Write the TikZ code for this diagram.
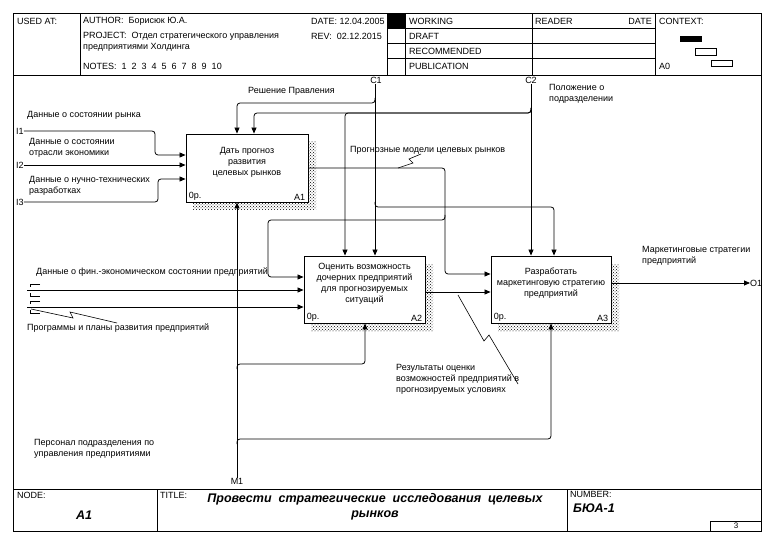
\documentclass[tikz,border=0pt]{standalone}
\usepackage{fontspec}
\setmainfont{Liberation Sans}
\usetikzlibrary{arrows.meta,patterns}
\newcommand{\fsn}{\fontsize{9}{11}\selectfont}
\newcommand{\fbig}{\fontsize{12.5}{15.5}\selectfont\bfseries\itshape}
\begin{document}
\begin{tikzpicture}[x=1pt,y=-1pt,
  lbl/.style={inner sep=0pt, anchor=west, align=left, font=\fsn},
  arr/.style={draw, line width=0.8pt, -{Triangle[length=6pt,width=5pt]}, rounded corners=3pt},
  ln/.style={line width=0.8pt},
  frame/.style={line width=1pt},
  box/.style={draw, line width=0.9pt, fill=white, inner sep=0pt},
  btxt/.style={inner sep=0pt, align=center, font=\fsn},
  shadowfill/.style={pattern=crosshatch dots, pattern color=black}]
\useasboundingbox (0,0) rectangle (780,559);
\fill[white] (0,0) rectangle (780,559);

% ---------- frame and header ----------
\draw[frame] (13,14) rectangle (761,531);
\draw[frame] (13,76) -- (761,76);
\draw[frame] (80,14) -- (80,76);
\draw[frame] (387,14) -- (387,76);
\draw[frame] (405,14) -- (405,76);
\draw[frame] (532,14) -- (532,76);
\draw[frame] (655,14) -- (655,76);
\foreach \yy in {29,44,59} \draw[frame] (387,\yy) -- (655,\yy);
\fill (387,14) rectangle (405,29);

\node[lbl] (usedat) at (17,21) {USED AT:};
\node[lbl] (author) at (83,21) {AUTHOR:\ \ Борисюк Ю.А.};
\node[lbl] (date) at (311,21) {DATE: 12.04.2005};
\node[lbl] (project) at (83,36) {PROJECT:\ \ Отдел стратегического управления};
\node[lbl] (rev) at (311,36) {REV:\ \ 02.12.2015};
\node[lbl] (project2) at (83,47) {предприятиями Холдинга};
\node[lbl] (notes) at (83,66) {NOTES:\ \ 1\ \ 2\ \ 3\ \ 4\ \ 5\ \ 6\ \ 7\ \ 8\ \ 9\ \ 10};
\node[lbl] (working) at (409,21) {WORKING};
\node[lbl] (draft) at (409,36) {DRAFT};
\node[lbl] (recommended) at (409,51) {RECOMMENDED};
\node[lbl] (publication) at (409,66) {PUBLICATION};
\node[lbl] (reader) at (535,21) {READER};
\node[lbl, anchor=east] (rdate) at (652,21) {DATE};
\node[lbl] (context) at (659,21) {CONTEXT:};
\node[lbl] (a0) at (659,66) {A0};
\fill (680,36) rectangle (702,42);
\draw[line width=0.8pt] (695,48) rectangle (716,55);
\draw[line width=0.8pt] (711,60) rectangle (732,66);

% ---------- footer ----------
\draw[frame] (13,489) -- (761,489);
\draw[frame] (157,489) -- (157,531);
\draw[frame] (567,489) -- (567,531);
\draw[frame] (710,521) rectangle (761,531);
\node[lbl] (nodelbl) at (17,495) {NODE:};
\node[inner sep=0pt, font=\fbig] (nodeval) at (84,515) {A1};
\node[lbl] (titlelbl) at (160,495) {TITLE:};
\node[inner sep=0pt, align=center, font=\fbig] (titleval) at (375,507)
  {Провести\ \ стратегические\ \ исследования\ \ целевых\\рынков};
\node[lbl] (numlbl) at (570,494) {NUMBER:};
\node[lbl, font=\fbig] (numval) at (573,508) {БЮА-1};
\node[inner sep=0pt, font=\fontsize{8}{9}\selectfont] (page) at (736,526) {3};

% ---------- shadows ----------
\fill[shadowfill] (193,142) rectangle (316,210);
\fill[shadowfill] (311,264) rectangle (433,331);
\fill[shadowfill] (498,264) rectangle (619,331);

% ---------- boxes ----------
\node[box, minimum width=122pt, minimum height=68pt] (A1) at (247,168) {};
\node[box, minimum width=121pt, minimum height=67pt] (A2) at (364.5,289.5) {};
\node[box, minimum width=120pt, minimum height=67pt] (A3) at (551,289.5) {};
\node[btxt] (A1t) at ([yshift=6pt]A1.center) {Дать прогноз\\развития\\целевых рынков};
\node[btxt] (A2t) at ([yshift=5.5pt]A2.center) {Оценить возможность\\дочерних предприятий\\для прогнозируемых\\ситуаций};
\node[btxt] (A3t) at ([yshift=6pt]A3.center) {Разработать\\маркетинговую стратегию\\предприятий};
\foreach \b/\n in {A1/A1,A2/A2,A3/A3}{
  \node[lbl, anchor=south west] at ([xshift=3pt,yshift=2pt]\b.south west) {0р.};
  \node[lbl, anchor=south east] at ([xshift=-3pt,yshift=2pt]\b.south east) {\n};
}

% ---------- boundary labels ----------
\node[lbl] (I1) at (16,131) {I1};
\node[lbl] (I2) at (16,165) {I2};
\node[lbl] (I3) at (16,202) {I3};
\node[inner sep=0pt, font=\fsn] (C1) at (376,80) {C1};
\node[inner sep=0pt, font=\fsn] (C2) at (531,80) {C2};
\node[inner sep=0pt, font=\fsn] (M1) at (237,481) {M1};
\node[lbl] (O1) at (750,283) {O1};
\coordinate (T1) at (27,290);
\coordinate (T2) at (27,307);

% ---------- arrow labels ----------
\node[lbl] (l1) at (27,115) {Данные о состоянии рынка};
\node[lbl] (l2) at (29,147.5) {Данные о состоянии\\отрасли экономики};
\node[lbl] (l3) at (29,185.5) {Данные о нучно-технических\\разработках};
\node[lbl] (l4) at (248,91) {Решение Правления};
\node[lbl] (l5) at (549,94) {Положение о\\подразделении};
\node[lbl] (l6) at (350,150) {Прогнозные модели целевых рынков};
\node[lbl] (l7) at (36,272) {Данные о фин.-экономическом состоянии предприятий};
\node[lbl] (l8) at (27,328) {Программы и планы развития предприятий};
\node[lbl] (l9) at (396,379) {Результаты оценки\\возможностей предприятий в\\прогнозируемых условиях};
\node[lbl] (l10) at (642,255.5) {Маркетинговые стратегии\\предприятий};
\node[lbl] (l11) at (34,449) {Персонал подразделения по\\управления предприятиями};

% ---------- inputs ----------
\draw[arr] (I1.east) -- (155,131) -- (155,155) -- (A1.west |- 0,155);
\draw[arr] (I2.east) -- (A1.west |- 0,165);
\draw[arr] (I3.east) -- (158,202) -- (158,179) -- (A1.west |- 0,179);
\draw[arr] (T1) -- (A2.west |- T1);
\draw[arr] (T2) -- (A2.west |- T2);
% tunnel brackets
\draw[ln] (40,284) -- (30,284) -- (30,287);
\draw[ln] (30,293) -- (30,296) -- (40,296);
\draw[ln] (40,301) -- (30,301) -- (30,304);
\draw[ln] (30,310) -- (30,313) -- (40,313);

% ---------- controls ----------
\draw[arr] (C1.south) ++(-1,1) coordinate (c1top) -- (A2.north -| c1top);
\draw[arr] (375,98) -- (375,103) -- (237,103) -- (A1.north -| 237,0);
\draw[arr] (375,202) -- (375,207) -- (554,207) -- (A3.north -| 554,0);
\draw[arr] (C2.south) ++(0,1) coordinate (c2top) -- (A3.north -| c2top);
\draw[arr] (531,108) -- (531,113) -- (254,113) -- (A1.north -| 254,0);
\draw[arr] (531,108) -- (531,113) -- (345,113) -- (A2.north -| 345,0);

% ---------- outputs ----------
\draw[arr] (A1.east) -- (445,168) -- (445,274) -- (A3.west |- 0,274);
\draw[arr] (445,215) -- (445,220) -- (268,220) -- (268,277) -- (A2.west |- 0,277);
\draw[arr] (A2.east |- 0,292) -- (A3.west |- 0,292);
\draw[arr] (A3.east |- O1.west) -- (O1.west);

% ---------- mechanisms ----------
\draw[arr] (M1.north) -- (A1.south -| M1.north);
\draw[arr] (237,444) -- (237,439) -- (551,439) -- (A3.south -| 551,0);
\draw[arr] (237,369) -- (237,364) -- (365,364) -- (A2.south -| 365,0);

% ---------- squiggles ----------
\draw[line width=0.6pt] (398,168) -- (413,163) -- (409,159) -- (421,154);
\draw[line width=0.6pt] (31,309) -- (73,318) -- (70,312) -- (117,323);
\draw[line width=0.6pt] (458,295) -- (484,341) -- (489,335) -- (518,384);
\end{tikzpicture}
\end{document}
